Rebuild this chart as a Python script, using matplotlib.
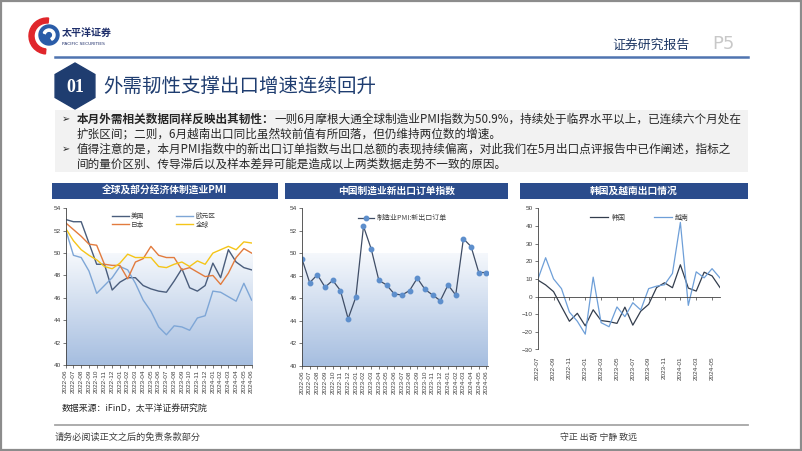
import numpy as np
import matplotlib.pyplot as plt
from matplotlib.patches import Rectangle, RegularPolygon, Wedge, Circle
from matplotlib.colors import LinearSegmentedColormap

plt.rcParams['font.family'] = ['Noto Sans CJK SC', 'DejaVu Sans']

W, H = 802, 451

# ---- data ----
months_pmi = ['2022-06', '2022-07', '2022-08', '2022-09', '2022-10', '2022-11', '2022-12',
              '2023-01', '2023-02', '2023-03', '2023-04', '2023-05', '2023-06', '2023-07',
              '2023-08', '2023-09', '2023-10', '2023-11', '2023-12', '2024-01', '2024-02',
              '2024-03', '2024-04', '2024-05', '2024-06']
pmi_us = [53.0, 52.8, 52.8, 50.9, 49.0, 49.0, 46.7, 47.4, 47.8, 47.8, 47.1, 46.8, 46.6,
          46.5, 47.5, 48.6, 46.9, 46.6, 47.1, 49.1, 47.8, 50.3, 49.2, 48.7, 48.5]
pmi_ez = [52.1, 49.8, 49.6, 48.4, 46.4, 47.1, 47.8, 48.8, 48.5, 47.3, 45.8, 44.8, 43.4,
          42.7, 43.5, 43.4, 43.1, 44.2, 44.4, 46.6, 46.5, 46.1, 45.7, 47.3, 45.8]
pmi_jp = [52.7, 52.1, 51.5, 50.8, 50.7, 49.0, 48.9, 48.9, 47.7, 49.2, 49.5, 50.6, 49.8,
          49.6, 49.6, 48.5, 48.7, 48.3, 47.9, 48.0, 47.2, 48.2, 49.6, 50.4, 50.0]
pmi_gl = [52.2, 51.1, 50.3, 49.8, 49.4, 48.8, 48.6, 49.1, 49.9, 49.6, 49.6, 49.6, 48.8,
          48.7, 49.0, 49.2, 48.8, 49.3, 49.0, 50.0, 50.3, 50.6, 50.3, 51.0, 50.9]
cn_new_export = [49.5, 47.4, 48.1, 47.0, 47.6, 46.7, 44.2, 46.1, 52.4, 50.4, 47.6, 47.2, 46.4,
                 46.3, 46.7, 47.8, 46.8, 46.3, 45.8, 47.2, 46.3, 51.3, 50.6, 48.3, 48.3]

months_exp = ['2022-07', '2022-08', '2022-09', '2022-10', '2022-11', '2022-12', '2023-01',
              '2023-02', '2023-03', '2023-04', '2023-05', '2023-06', '2023-07', '2023-08',
              '2023-09', '2023-10', '2023-11', '2023-12', '2024-01', '2024-02', '2024-03',
              '2024-04', '2024-05', '2024-06']
exp_kr = [9.4, 6.6, 2.8, -5.7, -14.0, -9.5, -16.6, -7.5, -13.6, -14.2, -15.2, -6.0,
          -16.2, -8.3, -4.4, 5.1, 7.8, 5.0, 18.0, 4.8, 3.1, 13.8, 11.7, 5.1]
exp_vn = [9.5, 22.0, 10.0, 4.5, -8.8, -14.0, -21.3, 11.0, -14.8, -17.1, -5.9, -11.4,
          -3.5, -7.6, 4.5, 5.9, 6.7, 13.1, 42.0, -5.0, 14.0, 10.6, 15.8, 10.5]

fig = plt.figure(figsize=(W / 100, H / 100), dpi=100)

# overlay in pixel coords
ov = fig.add_axes([0, 0, 1, 1])
ov.set_xlim(0, W)
ov.set_ylim(H, 0)
ov.axis('off')

navy = '#1F3D70'
bar_blue = '#2B4C8C'
txt = '#262626'

ov.add_patch(Rectangle((1, 1), W - 2, H - 2, fill=False, ec='#8C8C8C', lw=1.6))

# logo
ov.add_patch(Wedge((47, 36), 18, 95, 275, width=5, color='#E0262B'))
ov.add_patch(Circle((49, 35), 10, color='#2A5CA8'))
ov.add_patch(Wedge((49, 35), 6, 200, 60, width=2.2, color='white'))
ov.text(62, 33, '太平洋证券', fontsize=7.2, fontweight='bold', color='#1F2F6B', va='center')
ov.text(62, 44, 'PACIFIC SECURITIES', fontsize=3.2, color='#1F2F6B', va='center',
        family='DejaVu Sans')

ov.text(612, 45, '证券研究报告', fontsize=9.3, color='#1F3864', va='center')
ov.text(712, 44, 'P5', fontsize=13, color='#C8C8C8', va='center', family='Liberation Sans Narrow')
ov.plot([55, 748], [57, 57], color='#4F74B0', lw=1.8)

# section header
ov.add_patch(RegularPolygon((75, 86), 6, radius=23, orientation=0, color=navy))
ov.text(75, 87, '01', fontsize=13, color='white', ha='center', va='center',
        family='Liberation Serif', fontweight='bold')
ov.text(103, 86, '外需韧性支撑出口增速连续回升', fontsize=14, color=navy, va='center')

# text box
ov.add_patch(Rectangle((55, 110), 693, 62, color='#F2F2F2', lw=0))
fs_body = 8.35
bold_part = '本月外需相关数据同样反映出其韧性：'
rest1 = '一则6月摩根大通全球制造业PMI指数为50.9%，持续处于临界水平以上，已连续六个月处在'
ov.text(62, 119, '➢', fontsize=7, color=txt, va='center')
tb = ov.text(77, 119, bold_part, fontsize=fs_body, fontweight='bold', color=txt, va='center')
fig.canvas.draw()
bb = tb.get_window_extent(fig.canvas.get_renderer())
x_end = ov.transData.inverted().transform((bb.x1, bb.y0))[0]
ov.text(x_end, 119, rest1, fontsize=fs_body, color=txt, va='center')
ov.text(77, 134, '扩张区间；二则，6月越南出口同比虽然较前值有所回落，但仍维持两位数的增速。',
        fontsize=fs_body, color=txt, va='center')
ov.text(62, 149, '➢', fontsize=7, color=txt, va='center')
ov.text(77, 149, '值得注意的是，本月PMI指数中的新出口订单指数与出口总额的表现持续偏离，对此我们在5月出口点评报告中已作阐述，指标之',
        fontsize=fs_body, color=txt, va='center')
ov.text(77, 164, '间的量价区别、传导滞后以及样本差异可能是造成以上两类数据走势不一致的原因。',
        fontsize=fs_body, color=txt, va='center')

# chart title bars
for x0, x1, t in [(52, 278, '全球及部分经济体制造业PMI'),
                  (285, 508, '中国制造业新出口订单指数'),
                  (520, 748, '韩国及越南出口情况')]:
    ov.add_patch(Rectangle((x0, 183), x1 - x0, 16, color=bar_blue, lw=0))
    ov.text((x0 + x1) / 2, 191, t, fontsize=7, color='white', fontweight='bold',
            ha='center', va='center')

# footer
ov.text(62, 408, '数据来源：iFinD，太平洋证券研究院', fontsize=6.4, color=txt, va='center')
ov.plot([55, 748], [425, 425], color='#A6A6A6', lw=1.3)
ov.text(55, 437, '请务必阅读正文之后的免责条款部分', fontsize=6.6, color='#404040', va='center')
ov.text(560, 437, '守正 出奇 宁静 致远', fontsize=6.4, color='#404040', va='center')


def px_axes(x0, y0, x1, y1):
    return fig.add_axes([x0 / W, 1 - y1 / H, (x1 - x0) / W, (y1 - y0) / H])


grad = LinearSegmentedColormap.from_list('g', ['#A6BEE0', '#F5F8FC'])
tick_font = 'Liberation Sans'


def style(ax):
    for s in ['top', 'right']:
        ax.spines[s].set_visible(False)
    for s in ['left', 'bottom']:
        ax.spines[s].set_color('#404040')
        ax.spines[s].set_linewidth(0.6)
    ax.tick_params(length=2, width=0.5, colors='#404040', labelsize=4.6, pad=1.5)
    ax.tick_params(axis='x', labelrotation=90)
    for lab in ax.get_xticklabels() + ax.get_yticklabels():
        lab.set_family(tick_font)


# chart 1
ax1 = px_axes(65.7, 208.3, 252, 365)
x = np.arange(len(months_pmi))
ax1.imshow(np.linspace(0, 1, 100).reshape(-1, 1), extent=[0, 24.05, 40, 50], aspect='auto',
           cmap=grad, origin='lower', zorder=0)
h_us, = ax1.plot(x, pmi_us, color='#4A5D7C', lw=1.0, label='美国')
h_ez, = ax1.plot(x, pmi_ez, color='#7EA6D6', lw=1.0, label='欧元区')
h_jp, = ax1.plot(x, pmi_jp, color='#E27B3E', lw=1.0, label='日本')
h_gl, = ax1.plot(x, pmi_gl, color='#F5C518', lw=1.0, label='全球')
ax1.set_xlim(0, 24.05)
ax1.set_ylim(40, 54)
ax1.set_yticks(np.arange(40, 55, 2))
ax1.set_xticks(x)
ax1.set_xticklabels(months_pmi)
style(ax1)
ax1.legend(handles=[h_us, h_jp, h_ez, h_gl], ncol=2, loc='upper left',
           bbox_to_anchor=(0.23, 0.995), frameon=False, fontsize=4.8, handlelength=2.5,
           handletextpad=0.4, columnspacing=4.8, labelspacing=0.02, borderpad=0,
           labelcolor='#404040')

# chart 2
ax2 = px_axes(302, 208.3, 488, 366)
ax2.imshow(np.linspace(0, 1, 100).reshape(-1, 1), extent=[0, 24.2, 40, 50], aspect='auto',
           cmap=grad, origin='lower', zorder=0)
ax2.plot(x, cn_new_export, color='#3F4D66', lw=0.9, marker='o', ms=3.2,
         mfc='#5E8FCC', mec='#5E8FCC', label='制造业PMI:新出口订单')
ax2.set_xlim(0, 24.2)
ax2.set_ylim(40, 54)
ax2.set_yticks(np.arange(40, 55, 2))
ax2.set_xticks(x)
ax2.set_xticklabels(months_pmi)
style(ax2)
ax2.legend(loc='upper left', bbox_to_anchor=(0.28, 0.985), frameon=False, fontsize=5,
           handlelength=2.4, handletextpad=0.4, borderpad=0, labelcolor='#404040')

# chart 3
ax3 = px_axes(537.7, 208.3, 720, 349.5)
x3 = np.arange(len(months_exp))
ax3.plot(x3, exp_kr, color='#333D4D', lw=0.9, label='韩国')
ax3.plot(x3, exp_vn, color='#6E9FD8', lw=0.9, label='越南')
ax3.spines['bottom'].set_position(('data', 0))
ax3.set_xlim(0, 23)
ax3.set_ylim(-30, 50)
ax3.set_yticks(np.arange(-30, 51, 10))
ax3.set_xticks(x3[::2])
ax3.set_xticklabels(months_exp[::2])
style(ax3)
ax3.tick_params(axis='x', pad=41)
ax3.legend(loc='upper left', bbox_to_anchor=(0.27, 0.985), ncol=2, frameon=False, fontsize=5,
           handlelength=2.6, handletextpad=0.4, columnspacing=4.2, borderpad=0,
           labelcolor='#404040')

fig.savefig('out.png', dpi=100)
